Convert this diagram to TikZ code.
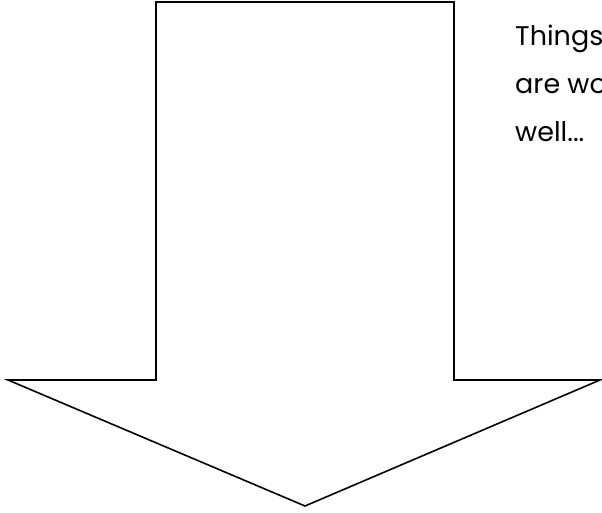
\documentclass[tikz,border=0pt]{standalone}
\usepackage{fontspec}
\setmainfont{Poppins}
\begin{document}
\begin{tikzpicture}[x=1pt,y=-1pt,
  every node/.style={font=\fontsize{27}{48}\selectfont},
  arrowline/.style={draw,line width=1.6pt,line join=miter},
  note/.style={anchor=north west,align=left,inner sep=0pt}]
\useasboundingbox (0,0) rectangle (602,513);
\clip (0,0) rectangle (602,513);
% big arrow pointing down
\draw[arrowline] (156,2) -- (454,2) -- (454,380) -- (600,380)
  -- (305,506) -- (8,380) -- (156,380) -- cycle;
% text beside the shaft
\node[note] (say) at (515,25) {Things\\are working\\well...};
\end{tikzpicture}
\end{document}
